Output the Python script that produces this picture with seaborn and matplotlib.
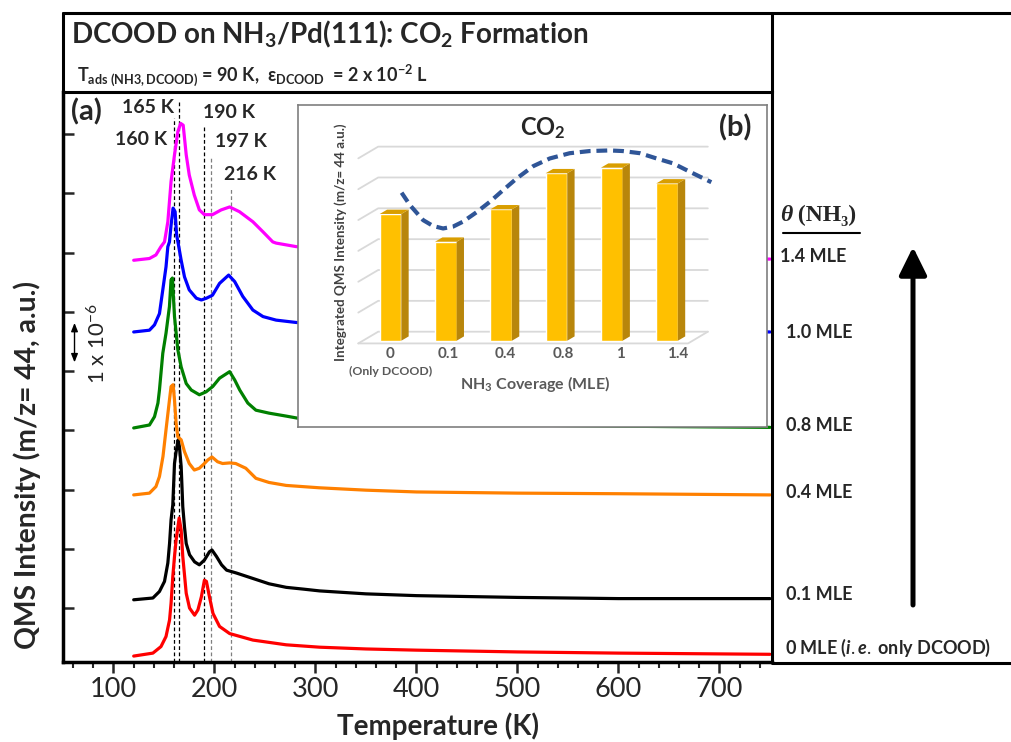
import numpy as np
import pandas as pd
import matplotlib
matplotlib.use("Agg")
import matplotlib.pyplot as plt
from matplotlib.lines import Line2D
from matplotlib.patches import Polygon, FancyArrowPatch
import seaborn as sns

# m/z = 44 TPD traces (vertical offsets included, a.u.)
coverages = ["0 MLE", "0.1 MLE", "0.4 MLE", "0.8 MLE", "1.0 MLE", "1.4 MLE"]
trace_colors = ["#FF0000", "#000000", "#FF8000", "#008000", "#0000FF", "#FF00FF"]

t_00 = [120, 139, 147, 152, 155.5, 157, 158.7, 160.4, 162, 165, 167, 168.6, 172, 175.3,
        180.3, 183.6, 187, 190, 192, 195, 198.5, 205, 215, 238, 271, 304, 350, 400, 500, 600, 750]
i_00 = [0.19, 0.24, 0.35, 0.52, 0.80, 1.08, 1.53, 1.87, 2.15, 2.52, 2.32, 1.87, 1.25, 1.00,
        0.88, 0.97, 1.19, 1.47, 1.45, 1.19, 0.91, 0.69, 0.57, 0.46, 0.38, 0.34, 0.31, 0.29,
        0.26, 0.24, 0.22]

t_01 = [120, 139, 145.5, 150.5, 153.8, 155.5, 157, 158.7, 160.4, 162, 164, 165.3, 167, 168.6,
        170.3, 172, 175.3, 180.3, 185, 190, 195, 197.5, 202, 207, 212, 222, 238, 254, 271, 288,
        304, 350, 400, 500, 600, 750]
i_01 = [1.14, 1.17, 1.28, 1.45, 1.76, 2.09, 2.49, 2.74, 3.44, 3.64, 3.84, 3.72, 3.39, 2.71,
        2.37, 2.09, 1.90, 1.78, 1.73, 1.81, 1.95, 1.98, 1.87, 1.73, 1.64, 1.59, 1.50, 1.41, 1.35,
        1.32, 1.29, 1.24, 1.21, 1.18, 1.16, 1.16]

t_04 = [120, 135.6, 142, 145.5, 149, 152, 155.4, 157, 159, 160.4, 162, 163.7, 167, 170.3,
        175, 180, 185, 190, 193.4, 197.5, 203, 208, 215, 221, 231, 241, 254, 271, 304, 350,
        400, 500, 600, 750]
i_04 = [2.91, 2.94, 3.05, 3.22, 3.56, 4.01, 4.51, 4.74, 4.77, 4.51, 4.12, 3.89, 3.84, 3.64,
        3.44, 3.33, 3.36, 3.44, 3.50, 3.55, 3.47, 3.44, 3.45, 3.44, 3.36, 3.19, 3.12, 3.07, 3.03,
        2.99, 2.96, 2.94, 2.93, 2.91]

t_08 = [120, 135.6, 140.6, 144, 145.5, 148.8, 152, 155.4, 157, 158.3, 160.4, 163.7, 167, 172,
        177, 185, 191.7, 198.3, 205, 215, 220, 225, 233, 241, 254, 271, 284, 400, 500, 600, 750]
i_08 = [4.04, 4.09, 4.23, 4.46, 4.68, 5.30, 5.64, 6.09, 6.54, 6.57, 5.92, 5.36, 5.07, 4.79,
        4.68, 4.60, 4.65, 4.74, 4.88, 4.99, 4.85, 4.68, 4.46, 4.34, 4.29, 4.24, 4.20, 4.12, 4.09,
        4.07, 4.05]

t_10 = [120, 135.6, 140.6, 145.5, 148.8, 152, 153.8, 155.4, 157, 159, 161, 162.5, 164, 167,
        170.3, 175, 182, 187, 192, 198, 205, 214, 220, 228, 238, 248, 261, 281, 400, 500, 600, 750]
i_10 = [5.66, 5.69, 5.78, 5.97, 6.37, 6.76, 7.10, 7.18, 7.46, 7.75, 7.69, 7.30, 7.16, 6.87,
        6.59, 6.37, 6.23, 6.20, 6.23, 6.28, 6.48, 6.62, 6.51, 6.26, 6.03, 5.92, 5.86, 5.82, 5.76,
        5.72, 5.69, 5.66]

t_14 = [120, 135.6, 142, 147, 150.5, 153.8, 157, 160.4, 163.7, 166.5, 169, 172, 175, 180,
        185, 190, 198, 206.6, 215, 224.7, 238, 248, 257.7, 261, 281, 400, 500, 600, 750]
i_14 = [6.87, 6.90, 6.96, 7.10, 7.18, 7.52, 8.20, 8.65, 9.04, 9.18, 9.15, 8.65, 8.31, 7.97,
        7.72, 7.64, 7.64, 7.72, 7.77, 7.69, 7.52, 7.35, 7.18, 7.16, 7.10, 7.00, 6.95, 6.92, 6.89]

trace_t = [t_00, t_01, t_04, t_08, t_10, t_14]
trace_i = [i_00, i_01, i_04, i_08, i_10, i_14]

# peak markers
peak_temps = [160, 165, 190, 197, 216]
peak_tops = [9.27, 9.54, 9.12, 8.60, 8.11]
peak_line_colors = ["#000000", "#000000", "#000000", "#7F7F7F", "#7F7F7F"]
peak_labels = ["160 K", "165 K", "190 K", "197 K", "216 K"]
peak_label_t = [127.7, 133.7, 213.9, 225.7, 235.6]
peak_label_i = [8.90, 9.44, 9.37, 8.87, 8.31]

# inset (b): integrated CO2 yield vs NH3 coverage
inset_cov = ["0", "0.1", "0.4", "0.8", "1", "1.4"]
inset_area = [4.11, 3.21, 4.26, 5.43, 5.61, 5.10]
trend_x = [0.20, 0.35, 0.59, 0.77, 0.95, 1.13, 1.31, 1.55, 1.80, 2.04, 2.28, 2.58, 2.88,
           3.24, 3.60, 3.96, 4.20, 4.51, 4.81, 5.11, 5.41, 5.80]
trend_y = [4.80, 4.40, 3.91, 3.72, 3.64, 3.70, 3.86, 4.16, 4.51, 4.89, 5.26, 5.66, 5.91,
           6.08, 6.15, 6.17, 6.15, 6.08, 5.91, 5.75, 5.48, 5.14]

right_labels = ["1.4 MLE", "1.0 MLE", "0.8 MLE", "0.4 MLE", "0.1 MLE",
                r"0 MLE ($\mathit{i.e.}$ only DCOOD)"]

W, H = 1012, 742


def px(x, y):
    return x / W, 1 - y / H


sns.set_style("ticks")
plt.rcParams["font.family"] = ["Lato", "DejaVu Sans"]
plt.rcParams["mathtext.fontset"] = "custom"
plt.rcParams["mathtext.rm"] = "Lato"
plt.rcParams["mathtext.bf"] = "Lato:bold"
plt.rcParams["mathtext.it"] = "Lato:italic:bold"
plt.rcParams["mathtext.default"] = "regular"

fig = plt.figure(figsize=(W / 100, H / 100), dpi=100)
ax = fig.add_axes([63 / W, 1 - 662 / H, (772 - 63) / W, (662 - 92) / H])

rows = []
for cov, ts, vs in zip(coverages, trace_t, trace_i):
    for t, v in zip(ts, vs):
        rows.append({"T": t, "I": v, "cov": cov})
df = pd.DataFrame(rows)

sns.lineplot(data=df, x="T", y="I", hue="cov", units="cov", estimator=None,
             palette=dict(zip(coverages, trace_colors)), lw=2.3, legend=False, ax=ax)

for t, top, c in zip(peak_temps, peak_tops, peak_line_colors):
    ax.plot([t, t], [0.09, top], color=c, lw=0.9, ls=(0, (3, 2)), zorder=1)
for lab, t, v in zip(peak_labels, peak_label_t, peak_label_i):
    ax.text(t, v, lab, ha="center", va="center", fontsize=14, fontweight="bold")
ax.text(73.3, 9.37, "(a)", ha="center", va="center", fontsize=21, fontweight="bold")

# scale bar
ax.annotate("", xy=(61.4, 5.86), xytext=(61.4, 5.10),
            arrowprops=dict(arrowstyle="<|-|>,head_length=0.5,head_width=0.2", lw=1, color="k"))
ax.text(84.2, 5.47, r"1 x 10$^{-6}$", rotation=90, ha="center", va="center", fontsize=16)

ax.set_xlim(50, 752)
ax.set_ylim(0.09, 9.71)
ax.set_xticks([100, 200, 300, 400, 500, 600, 700])
ax.set_xticks(np.arange(60, 752, 20), minor=True)
ax.set_yticks(np.arange(1, 10))
ax.tick_params(axis="x", which="major", direction="out", length=8, width=1.8, labelsize=19.5, pad=3)
ax.tick_params(axis="x", which="minor", direction="out", length=4.5, width=1.5)
ax.tick_params(axis="y", direction="in", length=8, width=1.8, labelleft=False)
for side, lw in [("left", 2.5), ("bottom", 2.5), ("right", 2.2), ("top", 2.2)]:
    ax.spines[side].set_linewidth(lw)
    ax.spines[side].set_color("k")
ax.set_xlabel("Temperature (K)", fontsize=20, fontweight="bold")
ax.xaxis.set_label_coords(0.529, -0.089)
ax.set_ylabel("QMS Intensity (m/z= 44, a.u.)", fontsize=20.3, fontweight="bold")
ax.yaxis.set_label_coords(-0.031, 0.345)

# inset (b)
ax_in = fig.add_axes([298 / W, 1 - 427 / H, (767 - 298) / W, (427 - 105) / H], zorder=5)
ax_in.set_facecolor("white")
for k in range(7):
    ax_in.plot([-0.583, -0.223, 5.737], [k - 0.087, k + 0.293, k + 0.293],
               color="#D9D9D9", lw=1.3, zorder=0)
ax_in.plot([-0.583, 5.38, 5.737], [-0.087, -0.087, 0.293], color="#D9D9D9", lw=1.3, zorder=0)
sns.barplot(x=inset_cov, y=inset_area, order=inset_cov, color="#FFC000", saturation=1,
            width=0.39, errorbar=None, ax=ax_in, zorder=2)
ddx, ddy = 0.133, 0.14
for bar in ax_in.patches:
    x0, w, h = bar.get_x(), bar.get_width(), bar.get_height()
    x1 = x0 + w
    ax_in.add_patch(Polygon([(x1, 0), (x1 + ddx, ddy), (x1 + ddx, h + ddy), (x1, h)],
                            closed=True, fc="#B8860B", ec="none", zorder=2))
    ax_in.add_patch(Polygon([(x0, h), (x1, h), (x1 + ddx, h + ddy), (x0 + ddx, h + ddy)],
                            closed=True, fc="#D99E00", ec="none", zorder=2))
ax_in.plot(trend_x, trend_y, color="#2F5597", lw=3, ls=(0, (2.6, 1.4)), zorder=4)
for i, lab in enumerate(inset_cov):
    ax_in.text(i + 0.04 * i, -0.44, lab, ha="center", va="center", fontsize=11,
               fontweight="bold", color="#595959")
ax_in.text(0, -0.99, "(Only DCOOD)", ha="center", va="center", fontsize=8.8,
           fontweight="bold", color="#595959")
ax_in.text(2.61, -1.41, r"NH$_\mathbf{3}$ Coverage (MLE)", ha="center", va="center",
           fontsize=11.5, fontweight="bold", color="#595959")
ax_in.text(-0.91, 3.19, "Integrated QMS Intensity (m/z= 44 a.u.)", rotation=90,
           ha="center", va="center", fontsize=9.6, fontweight="bold", color="#404040")
ax_in.text(2.76, 6.91, r"CO$_\mathbf{2}$", ha="center", va="center", fontsize=17,
           fontweight="bold", color="#262626")
ax_in.text(6.23, 6.91, "(b)", ha="center", va="center", fontsize=21, fontweight="bold")
ax_in.set_xlim(-1.673, 6.807)
ax_in.set_ylim(-2.797, 7.643)
ax_in.set_xticks([])
ax_in.set_yticks([])
ax_in.set_xlabel("")
ax_in.set_ylabel("")
for s in ax_in.spines.values():
    s.set_color("#7F7F7F")
    s.set_linewidth(1.2)

# frame around title and right panel
frame = [((63, 13), (1012, 13)), ((63, 13), (63, 92)), ((772, 13), (772, 92)),
         ((772, 663), (1012, 663))]
for (xa, ya), (xb, yb) in frame:
    (fa, ga), (fb, gb) = px(xa, ya), px(xb, yb)
    fig.add_artist(Line2D([fa, fb], [ga, gb], color="k", lw=2.2, transform=fig.transFigure))

fig.text(*px(71, 43), r"DCOOD on NH$_\mathbf{3}$/Pd(111): CO$_\mathbf{2}$ Formation",
         fontsize=20, fontweight="bold", va="baseline")
fig.text(*px(77, 81), r"T$_\mathbf{ads\ (NH3,DCOOD)}$ = 90 K,  ε$_\mathbf{DCOOD}$  = 2 x 10$^\mathbf{-2}$ L",
         fontsize=13, fontweight="bold", va="baseline")

# right panel: coverage labels and arrow
serif = ["Liberation Serif", "DejaVu Serif"]
theta = fig.text(*px(780, 226), "θ", fontsize=17, fontweight="bold", family=serif,
                 style="italic", va="bottom")
ax.annotate(" (NH₃)", xy=(1, 0), xycoords=theta, va="bottom", ha="left", fontsize=17,
            fontweight="bold", family=serif, annotation_clip=False)
fig.add_artist(Line2D([783 / W, 860 / W], [1 - 233 / H] * 2, color="k", lw=1.5,
                      transform=fig.transFigure))
label_pos = [(780, 257), (786, 332), (786, 425), (786, 493), (786, 595), (785, 648)]
for lab, (xl, yl) in zip(right_labels, label_pos):
    fig.text(*px(xl, yl), lab, fontsize=13, fontweight="bold", va="center")
fig.add_artist(FancyArrowPatch(px(913, 605), px(913, 247),
                               arrowstyle="-|>,head_length=0.85,head_width=0.42",
                               mutation_scale=20, lw=3.6, color="k", shrinkA=0, shrinkB=0,
                               transform=fig.transFigure))

fig.savefig("out.png", dpi=100)
